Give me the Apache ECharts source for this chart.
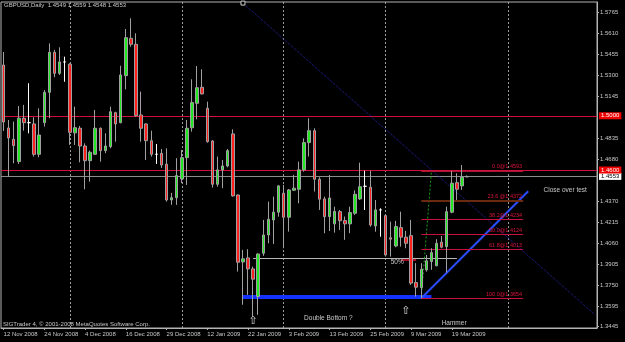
<!DOCTYPE html>
<html>
<head>
<meta charset="utf-8">
<script src="https://cdn.jsdelivr.net/npm/echarts@6/dist/echarts.min.js"></script>
<style>
    html, body { margin: 0; padding: 0; background: #000; }
    #chart { width: 625px; height: 342px; }
</style>
</head>
<body>
<div id="chart"></div>
<script>
// trading days (last 25 are the empty chart shift on the right)
const dates = [
    '12 Nov 2008', '13 Nov 2008', '14 Nov 2008', '17 Nov 2008', '18 Nov 2008', '19 Nov 2008', '20 Nov 2008', '21 Nov 2008',
    '24 Nov 2008', '25 Nov 2008', '26 Nov 2008', '27 Nov 2008', '28 Nov 2008', '1 Dec 2008', '2 Dec 2008', '3 Dec 2008',
    '4 Dec 2008', '5 Dec 2008', '8 Dec 2008', '9 Dec 2008', '10 Dec 2008', '11 Dec 2008', '12 Dec 2008', '15 Dec 2008',
    '16 Dec 2008', '17 Dec 2008', '18 Dec 2008', '19 Dec 2008', '22 Dec 2008', '23 Dec 2008', '24 Dec 2008', '26 Dec 2008',
    '29 Dec 2008', '30 Dec 2008', '31 Dec 2008', '5 Jan 2009', '6 Jan 2009', '7 Jan 2009', '8 Jan 2009', '9 Jan 2009',
    '12 Jan 2009', '13 Jan 2009', '14 Jan 2009', '15 Jan 2009', '16 Jan 2009', '19 Jan 2009', '20 Jan 2009', '21 Jan 2009',
    '22 Jan 2009', '23 Jan 2009', '26 Jan 2009', '27 Jan 2009', '28 Jan 2009', '29 Jan 2009', '30 Jan 2009', '2 Feb 2009',
    '3 Feb 2009', '4 Feb 2009', '5 Feb 2009', '6 Feb 2009', '9 Feb 2009', '10 Feb 2009', '11 Feb 2009', '12 Feb 2009',
    '13 Feb 2009', '16 Feb 2009', '17 Feb 2009', '18 Feb 2009', '19 Feb 2009', '20 Feb 2009', '23 Feb 2009', '24 Feb 2009',
    '25 Feb 2009', '26 Feb 2009', '27 Feb 2009', '2 Mar 2009', '3 Mar 2009', '4 Mar 2009', '5 Mar 2009', '6 Mar 2009',
    '9 Mar 2009', '10 Mar 2009', '11 Mar 2009', '12 Mar 2009', '13 Mar 2009', '16 Mar 2009', '17 Mar 2009', '18 Mar 2009',
    '19 Mar 2009', '20 Mar 2009', '23 Mar 2009', '24 Mar 2009',
    '25 Mar 2009', '26 Mar 2009', '27 Mar 2009', '30 Mar 2009', '31 Mar 2009', '1 Apr 2009', '2 Apr 2009', '3 Apr 2009',
    '6 Apr 2009', '7 Apr 2009', '8 Apr 2009', '9 Apr 2009', '10 Apr 2009', '13 Apr 2009', '14 Apr 2009', '15 Apr 2009',
    '16 Apr 2009', '17 Apr 2009', '20 Apr 2009', '21 Apr 2009', '22 Apr 2009', '23 Apr 2009', '24 Apr 2009', '27 Apr 2009',
    '28 Apr 2009'
]

const opens = [
    1.5374, 1.4910, 1.4827, 1.4662, 1.4982, 1.4949, 1.4940, 1.4716, 1.4949, 1.5173,
    1.5468, 1.5313, 1.5397, 1.5380, 1.4874, 1.4908, 1.4777, 1.4669, 1.4716, 1.4908,
    1.4743, 1.4772, 1.5023, 1.4949, 1.5296, 1.5571, 1.5527, 1.5006, 1.4940, 1.4816,
    1.4716, 1.4723, 1.4643, 1.4379, 1.4396, 1.4534, 1.4691, 1.4912, 1.5092, 1.5210,
    1.5055, 1.4814, 1.4495, 1.4601, 1.4630, 1.4866, 1.4416, 1.3922, 1.3952, 1.3871,
    1.3667, 1.3986, 1.4121, 1.4232, 1.4289, 1.4429, 1.4252, 1.4451, 1.4458, 1.4601,
    1.4802, 1.4890, 1.4532, 1.4387, 1.4256, 1.4203, 1.4293, 1.4227, 1.4203, 1.4281,
    1.4387, 1.4480, 1.4473, 1.4188, 1.4306, 1.4264, 1.4100, 1.4040, 1.4175, 1.4105,
    1.4116, 1.3770, 1.3733, 1.3864, 1.3925, 1.3894, 1.4068, 1.4035, 1.4289, 1.4507,
    1.4483, 1.4549
]
const highs = [
    1.5470, 1.4969, 1.4957, 1.5072, 1.5080, 1.5240, 1.4989, 1.5055, 1.5190, 1.5534,
    1.5485, 1.5505, 1.5436, 1.5387, 1.5067, 1.4925, 1.4797, 1.4743, 1.5043, 1.4913,
    1.4871, 1.5067, 1.5030, 1.5369, 1.5640, 1.5719, 1.5608, 1.5178, 1.4945, 1.4890,
    1.4792, 1.4755, 1.4760, 1.4431, 1.4687, 1.4748, 1.4969, 1.5269, 1.5367, 1.5343,
    1.5104, 1.4821, 1.4699, 1.4674, 1.4755, 1.4900, 1.4420, 1.4011, 1.4016, 1.3888,
    1.3985, 1.4232, 1.4367, 1.4404, 1.4490, 1.4490, 1.4460, 1.4564, 1.4662, 1.4834,
    1.4982, 1.4908, 1.4547, 1.4404, 1.4563, 1.4330, 1.4305, 1.4257, 1.4330, 1.4450,
    1.4654, 1.4595, 1.4595, 1.4379, 1.4318, 1.4269, 1.4219, 1.4225, 1.4293, 1.4151,
    1.4232, 1.3913, 1.3913, 1.3974, 1.4023, 1.4090, 1.4114, 1.4330, 1.4593, 1.4576,
    1.4637, 1.4559
]
const lows = [
    1.4888, 1.4549, 1.4650, 1.4645, 1.4890, 1.4871, 1.4699, 1.4694, 1.4920, 1.4982,
    1.5284, 1.5301, 1.5251, 1.4785, 1.4785, 1.4657, 1.4458, 1.4514, 1.4711, 1.4662,
    1.4724, 1.4760, 1.4809, 1.4945, 1.5195, 1.5509, 1.4993, 1.4809, 1.4674, 1.4699,
    1.4645, 1.4615, 1.4367, 1.4343, 1.4343, 1.4503, 1.4490, 1.4883, 1.4974, 1.5158,
    1.4802, 1.4470, 1.4477, 1.4466, 1.4620, 1.4404, 1.3851, 1.3606, 1.3679, 1.3519,
    1.3532, 1.3967, 1.4060, 1.4055, 1.4256, 1.4023, 1.4146, 1.4445, 1.4355, 1.4588,
    1.4699, 1.4441, 1.4306, 1.4134, 1.4150, 1.4138, 1.4158, 1.4085, 1.4134, 1.4269,
    1.4379, 1.4305, 1.4182, 1.4145, 1.4108, 1.3962, 1.3962, 1.4031, 1.4035, 1.4023,
    1.3753, 1.3667, 1.3654, 1.3851, 1.3864, 1.3890, 1.4023, 1.3844, 1.4281, 1.4379,
    1.4453, 1.4548
]
const closes = [
    1.4954, 1.4836, 1.4780, 1.4982, 1.4949, 1.4949, 1.4716, 1.4858, 1.5173, 1.5468,
    1.5313, 1.5397, 1.5397, 1.4878, 1.4912, 1.4777, 1.4669, 1.4731, 1.4908, 1.4743,
    1.4777, 1.5030, 1.4940, 1.5301, 1.5576, 1.5527, 1.5001, 1.4908, 1.4816, 1.4716,
    1.4716, 1.4637, 1.4379, 1.4396, 1.4559, 1.4691, 1.4908, 1.5097, 1.5207, 1.5161,
    1.4809, 1.4495, 1.4601, 1.4630, 1.4743, 1.4409, 1.3920, 1.3945, 1.3871, 1.3795,
    1.3981, 1.4121, 1.4237, 1.4289, 1.4483, 1.4252, 1.4453, 1.4466, 1.4601, 1.4802,
    1.4890, 1.4532, 1.4385, 1.4256, 1.4394, 1.4295, 1.4226, 1.4203, 1.4286, 1.4421,
    1.4477, 1.4480, 1.4195, 1.4306, 1.4306, 1.3974, 1.4090, 1.4183, 1.4105, 1.4060,
    1.3766, 1.3736, 1.3869, 1.3930, 1.3991, 1.4060, 1.4031, 1.4293, 1.4503, 1.4458,
    1.4547, 1.4553
]

const priceTicks = [1.3445, 1.3595, 1.3750, 1.3905, 1.4060, 1.4215, 1.4370, 1.4680,
    1.4835, 1.5145, 1.5300, 1.5455, 1.5610, 1.5765]
const monthStarts = [13, 35, 55, 75, 99]

const resistance = 1.5000
const support = 1.4600
const bid = 1.4553

const fibNames = ['0.0@1.4593', '23.6 @1.4372', '38.2@1.4234', '50.0@1.4124', '61.8@1.4013', '100.0@1.3654']
const fibPrices = [1.4593, 1.4372, 1.4234, 1.4124, 1.4013, 1.3654]
const fibSpan = [82, 102]
const fibAnchor = [[82, 1.3654], [84, 1.4593]]

const downTrend = [[47, 1.5831], [116, 1.3536]]
const upTrend = [[82, 1.3654], [103, 1.4444]]
const doubleBottom = [[47, 1.3663], [84, 1.3663]]
const halfLine = [[49, 1.3950], [89, 1.3950]]
const halfMark = [[78, 1.3941], [81, 1.3941]]

const noteTexts = ['Double Bottom ?', 'Hammer', 'Close over test', '50%']
const notePoints = [[59, 1.3509], [86, 1.3471], [106, 1.4449], [76, 1.3918]]
const arrowPoints = [[49, 1.3488], [79, 1.3562]]

const FONT = 'Liberation Sans'
const TXT = '#c8c8c8'

const chart = echarts.init(document.getElementById('chart'))

const candleData = opens.map((o, i) => [o, closes[i], lows[i], highs[i]])
const showDate = (idx) => idx % 8 === 0 && idx <= 88

const lineData = []
// period separators
monthStarts.forEach(i => {
    lineData.push({ xAxis: i, lineStyle: { color: '#9a9a9a', width: 1, type: [2, 2] } })
})
// price levels with boxes on the axis
const boxLabel = (txt, bg, fg) => ({
    show: true, position: 'end', distance: 2, formatter: txt,
    backgroundColor: bg, color: fg, fontSize: 6, fontFamily: FONT,
    padding: [1, 2, 0, 2]
})
lineData.push({ yAxis: bid, lineStyle: { color: '#8c8c8c', width: 1, type: 'solid' }, label: boxLabel(bid.toFixed(4), '#ffffff', '#000000') })
lineData.push({ yAxis: resistance, lineStyle: { color: '#d0103a', width: 1, type: 'solid' }, label: boxLabel(resistance.toFixed(4), '#f00000', '#ffffff') })
lineData.push({ yAxis: support, lineStyle: { color: '#d0103a', width: 1, type: 'solid' }, label: boxLabel(support.toFixed(4), '#f00000', '#ffffff') })

const seg = (pts, style) => [{ coord: pts[0], lineStyle: style }, { coord: pts[1] }]
lineData.push(seg(downTrend, { color: '#2424b0', width: 1, type: [1, 1] }))
lineData.push(seg(halfLine, { color: '#b8b8b8', width: 1, type: 'solid' }))
lineData.push(seg(halfMark, { color: '#d81030', width: 1.5, type: 'solid' }))
lineData.push(seg(doubleBottom, { color: '#1432ff', width: 4, type: 'solid' }))
lineData.push(seg(upTrend, { color: '#2a4cff', width: 2, type: 'solid' }))
lineData.push(seg(fibAnchor, { color: '#18a018', width: 1, type: [2, 2] }))

// fibonacci levels
fibPrices.forEach((p, k) => {
    const col = k === 1 ? '#6a2a10' : (k === 0 ? '#a81830' : '#c8103c')
    lineData.push([
        {
            coord: [fibSpan[0], p],
            lineStyle: { color: col, width: k === 1 ? 2 : 1, type: 'solid' },
            label: {
                show: true, position: 'insideEndTop', distance: 1, formatter: fibNames[k],
                color: '#dc143c', fontSize: 5.5, fontFamily: FONT
            }
        },
        { coord: [fibSpan[1], p] }
    ])
})

const pointData = []
noteTexts.forEach((t, k) => {
    pointData.push({
        coord: notePoints[k], symbolSize: 0,
        label: { show: true, formatter: t, position: 'right', distance: 0, color: TXT, fontSize: 6.5, fontFamily: FONT }
    })
})
arrowPoints.forEach(c => {
    pointData.push({
        coord: c, symbolSize: 0,
        label: { show: true, formatter: '\u21e7', position: 'inside', color: '#d8d8d8', fontSize: 11, fontFamily: 'DejaVu Sans' }
    })
})
// anchor of the falling trend line
pointData.push({
    coord: downTrend[0], symbol: 'rect', symbolSize: 4,
    itemStyle: { color: '#000', borderColor: '#cccccc', borderWidth: 1 },
    label: { show: false }
})

const option = {
    animation: false,
    backgroundColor: '#000000',
    title: [{
        text: 'GBPUSD,Daily  1.4549 1.4559 1.4548 1.4553',
        left: 4, top: 2, padding: 0,
        textStyle: { color: TXT, fontSize: 6, fontWeight: 'normal', fontFamily: FONT }
    }, {
        text: 'SIGTrader 4, © 2001-2008 MetaQuotes Software Corp.',
        left: 3, top: 321, padding: 0,
        textStyle: { color: TXT, fontSize: 6, fontWeight: 'normal', fontFamily: FONT }
    }],
    grid: {
        left: 1, right: 28, top: 2, bottom: 14,
        show: true, borderColor: '#b4b4b4', borderWidth: 1
    },
    xAxis: {
        type: 'category',
        data: dates,
        boundaryGap: true,
        axisLine: { lineStyle: { color: '#b4b4b4' } },
        axisTick: { show: true, alignWithLabel: true, interval: showDate, length: 2, lineStyle: { color: '#b4b4b4' } },
        axisLabel: { interval: showDate, align: 'left', margin: 3, color: TXT, fontSize: 6, fontFamily: FONT },
        splitLine: { show: false }
    },
    yAxis: {
        type: 'value',
        position: 'right',
        min: 1.3435,
        max: 1.5839,
        axisLine: { show: true, lineStyle: { color: '#b4b4b4' } },
        axisTick: { show: true, length: 2, customValues: priceTicks, lineStyle: { color: '#b4b4b4' } },
        axisLabel: {
            customValues: priceTicks, margin: 3, color: TXT, fontSize: 6, fontFamily: FONT,
            formatter: v => v.toFixed(4)
        },
        splitLine: { show: false }
    },
    series: [{
        type: 'candlestick',
        data: candleData,
        barWidth: 3,
        itemStyle: {
            color: '#22e622',
            color0: '#ff2020',
            borderColor: '#a0a0a0',
            borderColor0: '#a0a0a0',
            borderColorDoji: '#ffffff',
            borderWidth: 1
        },
        markLine: {
            silent: true,
            z: 1,
            precision: 4,
            symbol: ['none', 'none'],
            label: { show: false },
            data: lineData
        },
        markPoint: {
            silent: true,
            data: pointData
        }
    }]
}
chart.setOption(option)
</script>
</body>
</html>
